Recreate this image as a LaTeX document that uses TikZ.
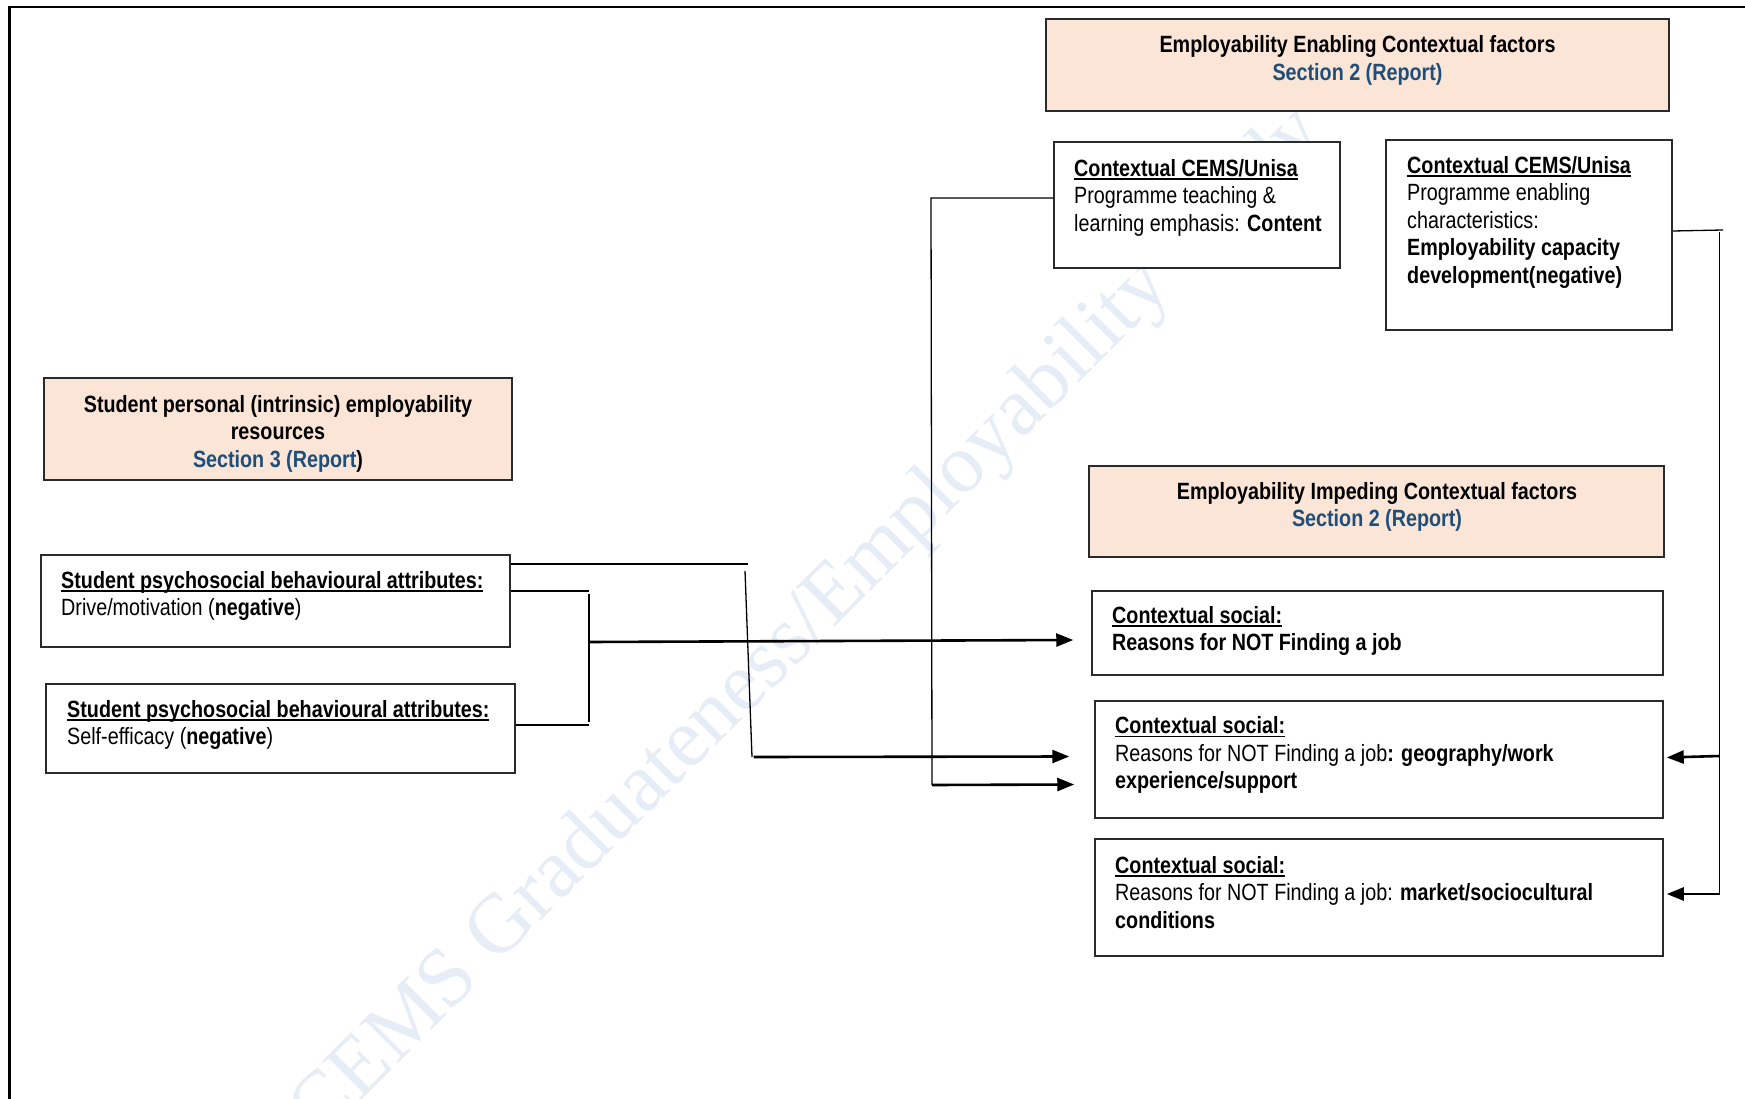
\documentclass[tikz,border=0pt]{standalone}
\usepackage{fontspec}
\setmainfont{Liberation Sans}[FakeStretch=0.84]
\newfontfamily\wmfont{Liberation Serif}
\usetikzlibrary{arrows.meta,calc,fit}

\definecolor{peach}{HTML}{FBE5D6}
\definecolor{secblue}{HTML}{1F4E79}
\definecolor{wmblue}{HTML}{E6EDF7}
\definecolor{edge}{HTML}{2A2A2A}

% underline drawn through the descenders, as in a word processor
\newcommand\ulin[1]{\setbox0\hbox{#1}\rlap{\rule[-3.4pt]{\wd0}{1.6pt}}\box0}
\newcommand\txtsize{\fontsize{23.5}{27.5}\selectfont}

\tikzset{
  boxframe/.style={draw=edge, line width=1.5pt, inner sep=0pt},
  headbox/.style={boxframe, fill=peach},
  plainbox/.style={boxframe, fill=white},
  leftlabel/.style={inner sep=0pt, font=\txtsize, align=left, anchor=north west},
  ctrlabel/.style={inner sep=0pt, font=\txtsize, align=center, anchor=north},
  link/.style={line width=1.3pt},
  arrowlink/.style={line width=2.6pt, -{Triangle[length=17pt,width=13pt]}},
}

\begin{document}
\begin{tikzpicture}[x=1pt,y=-1pt]
\useasboundingbox (0,0) rectangle (1745,1099);

% faint watermark behind the chart
\begin{scope}
  \clip (0,0) rectangle (1745,1099);
  \node[anchor=base west, inner sep=0pt, rotate=45, text=wmblue,
        font=\wmfont\fontsize{84}{84}\selectfont] (wm) at (320,1142)
        {CEMS Graduateness/Employability Study};
\end{scope}

% page frame
\draw[line width=2.5pt] (9.5,1099) -- (9.5,7) -- (1745,7);

% ---- boxes ----
\node[headbox,  fit={(1046,19) (1669,111)}]  (A) {};
\node[plainbox, fit={(1054,142) (1340,268)}] (B) {};
\node[plainbox, fit={(1386,140) (1672,330)}] (C) {};
\node[headbox,  fit={(44,378) (512,480)}]    (D) {};
\node[plainbox, fit={(41,555) (510,647)}]    (E) {};
\node[plainbox, fit={(46,684) (515,773)}]    (F) {};
\node[headbox,  fit={(1089,466) (1664,557)}] (G) {};
\node[plainbox, fit={(1092,591) (1663,675)}] (H) {};
\node[plainbox, fit={(1095,701) (1663,818)}] (I) {};
\node[plainbox, fit={(1095,839) (1663,956)}] (J) {};

% ---- texts ----
\node[ctrlabel] (At) at (1357.5,33.5)
  {\strut\textbf{Employability Enabling Contextual factors}\\
   \textcolor{secblue}{\textbf{Section 2 (Report)}}};
\node[leftlabel] (Bt) at (1074,157)
  {\strut\ulin{\textbf{Contextual CEMS/Unisa}}\\
   Programme teaching \&\\
   learning emphasis: \textbf{Content}};
\node[leftlabel] (Ct) at (1407,154)
  {\strut\ulin{\textbf{Contextual CEMS/Unisa}}\\
   Programme enabling\\
   characteristics:\\
   \textbf{Employability capacity}\\
   \textbf{development(negative)}};
\node[ctrlabel] (Dt) at (278,393)
  {\strut\textbf{Student personal (intrinsic) employability}\\
   \textbf{resources}\\
   \textbf{\textcolor{secblue}{Section 3 (Report})}};
\node[leftlabel] (Et) at (61,569)
  {\strut\ulin{\textbf{Student psychosocial behavioural attributes:}}\\
   Drive/motivation (\textbf{negative})};
\node[leftlabel] (Ft) at (67,698)
  {\strut\ulin{\textbf{Student psychosocial behavioural attributes:}}\\
   Self-efficacy (\textbf{negative})};
\node[ctrlabel] (Gt) at (1377,480)
  {\strut\textbf{Employability Impeding Contextual factors}\\
   \textcolor{secblue}{\textbf{Section 2 (Report)}}};
\node[leftlabel] (Ht) at (1112,604)
  {\strut\ulin{\textbf{Contextual social:}}\\
   \textbf{Reasons for NOT Finding a job}};
\node[leftlabel] (It) at (1115,714.5)
  {\strut\ulin{\textbf{Contextual social:}}\\
   Reasons for NOT Finding a job\textbf{: geography/work}\\
   \textbf{experience/support}};
\node[leftlabel] (Jt) at (1115,854)
  {\strut\ulin{\textbf{Contextual social:}}\\
   Reasons for NOT Finding a job: \textbf{market/sociocultural}\\
   \textbf{conditions}};

% ---- connectors ----
% personal attributes bracket
\coordinate (eTop) at (748,564);
\coordinate (eMid) at (589,591);
\coordinate (fMid) at (589,725);
\draw[link] (E.east |- eTop) -- (eTop);
\draw[link] (E.east |- eMid) -- (eMid);
\draw[link] (F.east |- fMid) -- (fMid);
\coordinate (brTop) at (589,594);
\coordinate (brBot) at (589,722);
\draw[link] (brTop) -- (brBot);
\coordinate (brOut) at (589,642);
\draw[arrowlink] (brOut) -- ($(H.west)+(-18,7)$);

% second drop from the upper free end
\coordinate (dropTop) at (745,571);
\coordinate (dropBot) at (752,757);
\draw[link] (dropTop) -- (dropBot);
\draw[arrowlink] ($(dropBot)+(1.5,0)$) -- ($(I.west)+(-25,-3)$);

% teaching & learning emphasis feeds the geography box
\coordinate (bEnd) at (931,198);
\coordinate (bDown) at (932,785);
\draw[link] ($(B.west)+(0,-7)$) -- (bEnd) -- (bDown);
\draw[arrowlink] (bDown) -- ($(I.west)+(-20,25)$);

% capacity development feeds both lower boxes
\coordinate (cOut) at (1723,230);
\coordinate (cTop) at (1719.5,232);
\coordinate (cMid) at (1719.5,756);
\coordinate (cBot) at (1719.5,894);
\draw[link] ($(C.east)+(0,-4)$) -- (cOut);
\draw[link] (cTop) -- (cBot);
\draw[arrowlink] (cMid) -- ($(I.east)+(3,-2)$);
\draw[arrowlink] (cBot) -- ($(J.east)+(3,-3.5)$);
\end{tikzpicture}
\end{document}
